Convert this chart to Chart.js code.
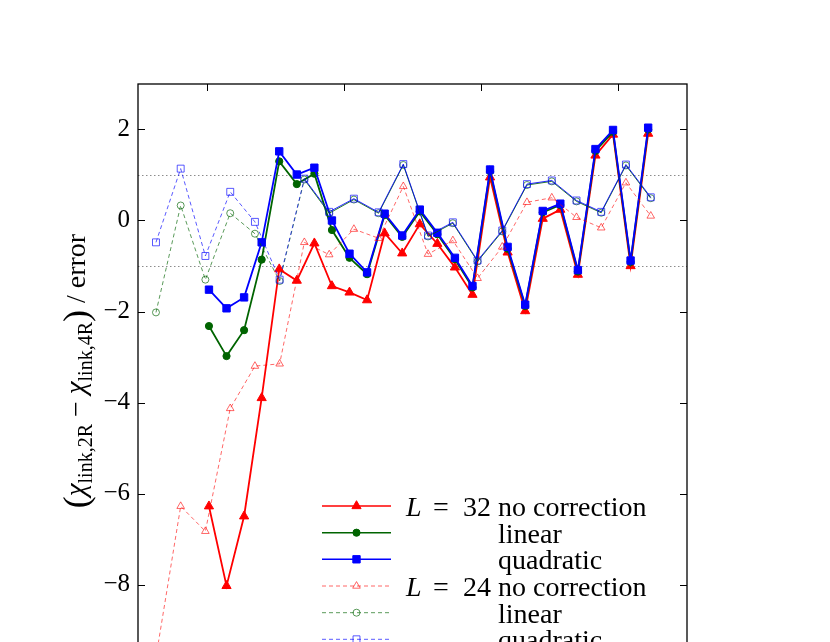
<!DOCTYPE html>
<html>
<head>
<meta charset="utf-8">
<script src="https://cdn.jsdelivr.net/npm/chart.js@4/dist/chart.umd.min.js"></script>
<style>
  html, body { margin: 0; padding: 0; background: #fff; overflow: hidden; }
  #wrap { position: absolute; left: 0; top: 0; width: 830px; height: 720px; }
</style>
</head>
<body>
<div id="wrap"><canvas id="diffChart"></canvas></div>
<script>
// x positions (arbitrary units, ticks at 0.5 .. 3.5)
const x32 = [0.517, 0.645, 0.773, 0.901, 1.029, 1.157, 1.285, 1.413, 1.541, 1.669, 1.797, 1.925, 2.053,
  2.181, 2.309, 2.437, 2.565, 2.693, 2.821, 2.949, 3.077, 3.205, 3.333, 3.461, 3.589, 3.717];
const x24 = [0.131, 0.311, 0.491, 0.672, 0.852, 1.032, 1.212, 1.393, 1.573, 1.753, 1.933, 2.113,
  2.294, 2.474, 2.654, 2.834, 3.015, 3.195, 3.375, 3.555, 3.736];

// L = 32
const noCorr32 = [-6.28, -8.03, -6.5, -3.9, -1.07, -1.32, -0.5, -1.44, -1.58, -1.75, -0.28, -0.72, -0.08,
  -0.51, -1.03, -1.63, 0.95, -0.70, -1.99, 0.04, 0.24, -1.19, 1.43, 1.89, -1.0, 1.91];
const linear32 = [-2.32, -2.98, -2.41, -0.86, 1.30, 0.80, 1.03, -0.21, -0.82, -1.18, 0.12, -0.36, 0.20,
  -0.30, -0.85, -1.47, 1.08, -0.62, -1.88, 0.18, 0.34, -1.12, 1.53, 1.95, -0.91, 2.00];
const quad32 = [-1.52, -1.93, -1.69, -0.48, 1.52, 1.01, 1.16, 0.0, -0.73, -1.14, 0.15, -0.33, 0.24,
  -0.27, -0.82, -1.44, 1.12, -0.58, -1.85, 0.21, 0.37, -1.09, 1.57, 1.99, -0.88, 2.04];

// L = 24
const noCorr24 = [-9.6, -6.28, -6.83, -4.13, -3.2, -3.15, -0.48, -0.75, -0.19, -0.39, 0.75, -0.74,
  -0.44, -1.27, -0.58, 0.40, 0.50, 0.07, -0.16, 0.83, 0.10];
const linear24 = [-2.02, 0.33, -1.30, 0.16, -0.29, -1.33, 0.90, 0.16, 0.46, 0.16, 1.22, -0.35,
  -0.06, -0.90, -0.24, 0.78, 0.86, 0.42, 0.17, 1.21, 0.49];
const quad24 = [-0.48, 1.14, -0.78, 0.63, -0.03, -1.30, 0.92, 0.19, 0.48, 0.18, 1.24, -0.33,
  -0.04, -0.88, -0.22, 0.80, 0.88, 0.44, 0.19, 1.23, 0.51];

const xTicks = [0.5, 1.5, 2.5, 3.5];
const yTicks = [-10, -8, -6, -4, -2, 0, 2];
const refLines = [-1, 1];

const SERIF = '"Liberation Serif", "DejaVu Serif", serif';
const DASH = [4, 3];
const solidFrom = 6; // L=24 linear/quadratic become solid thin lines from this point on

function pts(xs, ys) { return xs.map((x, i) => ({ x: x, y: ys[i] })); }

const series = [
  { label: 'no correction', L: 32, xs: x32, ys: noCorr32, color: '#ff0000', style: 'triangle', r: 5.3, open: false, order: 6 },
  { label: 'linear', L: 32, xs: x32, ys: linear32, color: '#006400', style: 'circle', r: 3.6, open: false, order: 5 },
  { label: 'quadratic', L: 32, xs: x32, ys: quad32, color: '#0000ff', style: 'rect', r: 5.2, open: false, order: 4 },
  { label: 'no correction', L: 24, xs: x24, ys: noCorr24, color: 'rgba(255,0,0,0.6)', style: 'triangle', r: 4.4, open: true, order: 3 },
  { label: 'linear', L: 24, xs: x24, ys: linear24, color: 'rgba(0,100,0,0.65)', style: 'circle', r: 3.5, open: true, order: 2 },
  { label: 'quadratic', L: 24, xs: x24, ys: quad24, color: 'rgba(0,0,255,0.65)', style: 'rect', r: 4.9, open: true, order: 1 },
];

const datasets = series.map((s, k) => {
  const ds = {
    label: 'L = ' + s.L + ' ' + s.label,
    data: pts(s.xs, s.ys),
    borderColor: s.color,
    backgroundColor: s.open ? 'rgba(0,0,0,0)' : s.color,
    pointBackgroundColor: s.open ? 'rgba(0,0,0,0)' : s.color,
    pointBorderColor: s.color,
    pointStyle: s.style,
    pointRadius: s.r,
    pointBorderWidth: 1,
    borderWidth: s.open ? 1 : 1.8,
    tension: 0,
    fill: false,
    order: s.order,
  };
  if (s.open) {
    ds.borderDash = DASH;
    if (k !== 3) {
      ds.segment = {
        borderDash: ctx => ctx.p0DataIndex >= solidFrom ? [] : DASH,
        borderColor: ctx => ctx.p0DataIndex >= solidFrom ? s.color.replace(/0\.65\)/, '0.85)') : s.color,
      };
    }
  }
  return ds;
});

const framePlugin = {
  id: 'frame',
  beforeDatasetsDraw(chart) {
    const { ctx, chartArea: a, scales } = chart;
    ctx.save();
    ctx.strokeStyle = '#8c8c8c';
    ctx.lineWidth = 1;
    ctx.setLineDash([1.5, 2.5]);
    refLines.forEach(v => {
      const y = Math.round(scales.y.getPixelForValue(v)) + 0.5;
      ctx.beginPath();
      ctx.moveTo(a.left, y);
      ctx.lineTo(a.right, y);
      ctx.stroke();
    });
    ctx.restore();
  },
  afterDraw(chart) {
    const { ctx, chartArea: a, scales } = chart;
    ctx.save();
    ctx.strokeStyle = '#000';
    ctx.lineWidth = 1.3;
    ctx.strokeRect(a.left, a.top, a.right - a.left, a.bottom - a.top);
    ctx.lineWidth = 1;
    const tl = 7;
    yTicks.forEach(v => {
      const y = Math.round(scales.y.getPixelForValue(v)) + 0.5;
      ctx.beginPath();
      ctx.moveTo(a.left, y); ctx.lineTo(a.left + tl, y);
      ctx.moveTo(a.right, y); ctx.lineTo(a.right - tl, y);
      ctx.stroke();
    });
    xTicks.forEach(v => {
      const x = Math.round(scales.x.getPixelForValue(v)) + 0.5;
      ctx.beginPath();
      ctx.moveTo(x, a.top); ctx.lineTo(x, a.top + tl);
      ctx.moveTo(x, a.bottom); ctx.lineTo(x, a.bottom - tl);
      ctx.stroke();
    });

    // y axis title with subscripts
    const parts = [
      { t: '(', f: '36px ' + SERIF, dy: 3 },
      { t: 'χ', f: 'italic 29px ' + SERIF, dy: 0 },
      { t: 'link,2R', f: '20px ' + SERIF, dy: 7 },
      { t: ' − ', f: '28px ' + SERIF, dy: 0 },
      { t: 'χ', f: 'italic 29px ' + SERIF, dy: 0 },
      { t: 'link,4R', f: '20px ' + SERIF, dy: 7 },
      { t: ')', f: '36px ' + SERIF, dy: 3 },
      { t: ' / error', f: '28px ' + SERIF, dy: 0 },
    ];
    let total = 0;
    parts.forEach(p => { ctx.font = p.f; p.w = ctx.measureText(p.t).width; total += p.w; });
    ctx.translate(85, 371);
    ctx.rotate(-Math.PI / 2);
    ctx.fillStyle = '#000';
    ctx.textBaseline = 'alphabetic';
    let px = -total / 2;
    parts.forEach(p => { ctx.font = p.f; ctx.fillText(p.t, px, p.dy); px += p.w; });
    ctx.restore();

    // legend
    ctx.save();
    const lx0 = 322, lx1 = 391, mx = 356.5, tx = 498;
    const rowY = [506, 532.7, 559.3, 586, 612.7, 639.3];
    series.forEach((s, i) => {
      const y = rowY[i];
      ctx.strokeStyle = s.color;
      ctx.lineWidth = s.open ? 1 : 1.5;
      ctx.setLineDash(s.open ? DASH : []);
      ctx.beginPath();
      ctx.moveTo(lx0, y); ctx.lineTo(lx1, y);
      ctx.stroke();
      ctx.setLineDash([]);
      ctx.fillStyle = s.open ? 'rgba(0,0,0,0)' : s.color;
      ctx.lineWidth = 1;
      Chart.helpers.drawPoint(ctx, { pointStyle: s.style, radius: s.r, rotation: 0, borderWidth: 1 }, mx, y);
      ctx.fillStyle = '#000';
      ctx.textBaseline = 'alphabetic';
      const by = y + 10;
      if (i === 0 || i === 3) {
        ctx.font = 'italic 28px ' + SERIF;
        ctx.fillText('L', 406, by);
        ctx.font = '28px ' + SERIF;
        ctx.fillText('=', 433, by);
        ctx.fillText(String(s.L), 463, by);
      }
      ctx.font = '28px ' + SERIF;
      ctx.fillText(s.label, tx, by);
    });
    ctx.restore();
  }
};

new Chart(document.getElementById('diffChart').getContext('2d'), {
  type: 'line',
  data: { datasets: datasets },
  options: {
    responsive: true,
    maintainAspectRatio: false,
    animation: false,
    events: [],
    layout: { padding: { top: 84, right: 143, bottom: 44.5, left: 0 } },
    plugins: { legend: { display: false }, tooltip: { enabled: false } },
    scales: {
      x: { type: 'linear', display: false, min: 0, max: 4 },
      y: {
        type: 'linear', min: -10, max: 3,
        grid: { display: false, drawTicks: false },
        border: { display: false },
        afterBuildTicks: s => { s.ticks = yTicks.map(v => ({ value: v })); },
        afterFit: s => { s.width = 138; },
        ticks: {
          padding: 8,
          color: '#000',
          font: { family: SERIF, size: 25 },
          callback: v => v < 0 ? '−' + Math.abs(v) : String(v),
        },
      },
    },
  },
  plugins: [framePlugin],
});
</script>
</body>
</html>
